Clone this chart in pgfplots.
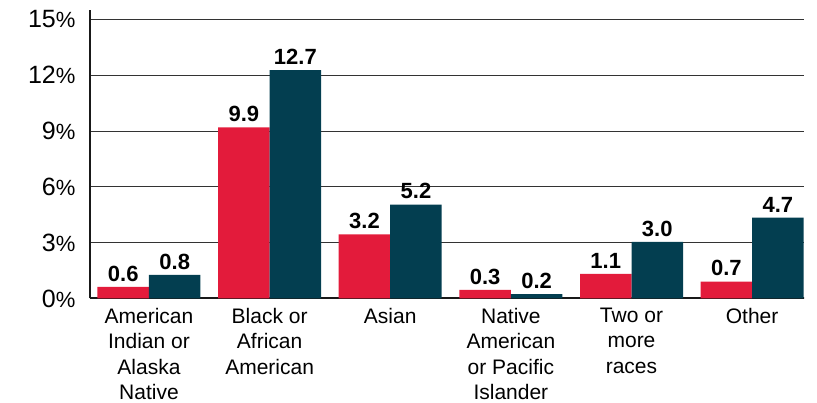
\documentclass[border=0pt]{standalone}
\usepackage{pgfplots}
\pgfplotsset{compat=1.18}
\usepackage{fontspec}
\setmainfont{Liberation Sans}
\definecolor{cred}{HTML}{E31B3B}
\definecolor{cteal}{HTML}{033E50}
\begin{document}
\begin{tikzpicture}
\useasboundingbox (-90pt,-104.5pt) rectangle (727pt,298.5pt);
\begin{axis}[
  scale only axis, width=714pt, height=288.5pt,
  xmin=-0.489, xmax=5.43, ymin=0, ymax=15.5,
  ybar=0pt, bar width=51.5pt,
  axis x line*=bottom, axis y line*=left,
  axis line style={line width=2pt, color=black!90, -},
  ymajorgrids, grid style={line width=0.8pt, black!80},
  /pgf/number format/assume math mode=true,
  ytick={0,3,6,9,12,15},
  yticklabel={\pgfmathprintnumber{\tick}{\fontsize{22}{22}\selectfont\%}},
  yticklabel style={font=\fontsize{25}{25}\selectfont, xshift=-11pt},
  xtick={0,1,2,3,4,5},
  xticklabels={{American\\Indian or\\Alaska\\Native},{Black or\\African\\American},{Asian},{Native\\American\\or Pacific\\Islander},{Two or\\more\\races},{Other}},
  xticklabel style={font=\fontsize{21}{25.5}\selectfont, align=center, yshift=-6pt},
  major tick length=0pt,
  nodes near coords, point meta=explicit symbolic,
  nodes near coords style={font=\bfseries\fontsize{22}{22}\selectfont, yshift=2pt, black},
]
\addplot[fill=cred, draw=none] table[meta=l] {
x y l
0 0.62 0.6
1 9.20 9.9
2 3.44 3.2
3 0.46 0.3
4 1.32 1.1
5 0.90 0.7
};
\addplot[fill=cteal, draw=none] table[meta=l] {
x y l
0 1.27 0.8
1 12.27 12.7
2 5.04 5.2
3 0.24 0.2
4 3.04 3.0
5 4.34 4.7
};
\draw[line width=2pt, black!90] (rel axis cs:1,0) -- ++(8pt,0);
\end{axis}
\end{tikzpicture}
\end{document}
